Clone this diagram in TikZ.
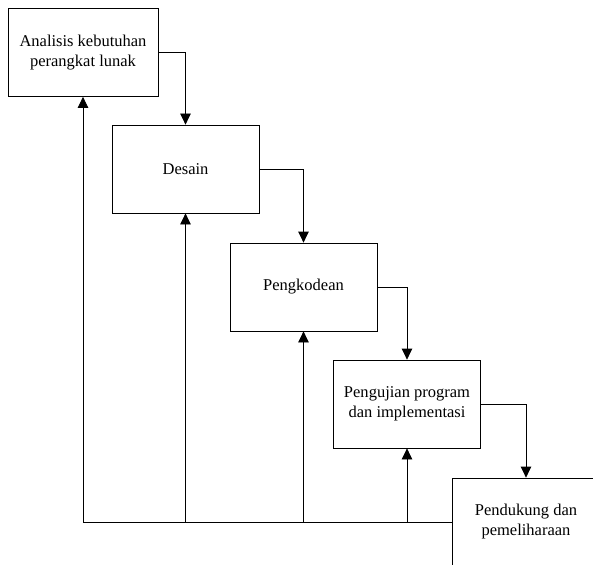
\documentclass[tikz,border=0pt]{standalone}
\usepackage{fontspec}
\setmainfont{Liberation Serif}
\usetikzlibrary{arrows.meta}
\begin{document}
\begin{tikzpicture}[x=1pt,y=-1pt,
  stagebox/.style={draw=black,line width=0.8pt,fill=white,minimum width=147pt,minimum height=88pt,inner sep=0pt,align=center,font=\fontsize{16.5}{20}\selectfont},
  flow/.style={line width=0.8pt,-{Triangle[width=10.5pt,length=11pt]}},
  plain/.style={line width=0.8pt}]
\clip (0,0) rectangle (593,564);
\fill[white] (0,0) rectangle (593,564);
\node[stagebox,minimum width=150pt] (a) at (83,52.5) {Analisis kebutuhan\\perangkat lunak};
\node[stagebox] (b) at (185.5,169) {Desain};
\node[stagebox] (c) at (303.5,287) {Pengkodean};
\node[stagebox] (d) at (407,404) {Pengujian program\\dan implementasi};
\node[stagebox,minimum width=148pt] (e) at (526,522) {Pendukung dan\\pemeliharaan};
% forward flow
\draw[flow] (a.east) -| (b.north);
\draw[flow] (b.east) -| (c.north);
\draw[flow] (c.east) -| (d.north);
\draw[flow] (d.east) -| (e.north);
% feedback
\coordinate (fa) at (a.south |- e.west);
\coordinate (fb) at (b.south |- e.west);
\coordinate (fc) at (c.south |- e.west);
\coordinate (fd) at (d.south |- e.west);
\draw[plain] (e.west) -- (fa);
\draw[flow] (fa) -- (a.south);
\draw[flow] (fb) -- (b.south);
\draw[flow] (fc) -- (c.south);
\draw[flow] (fd) -- (d.south);
\end{tikzpicture}
\end{document}
